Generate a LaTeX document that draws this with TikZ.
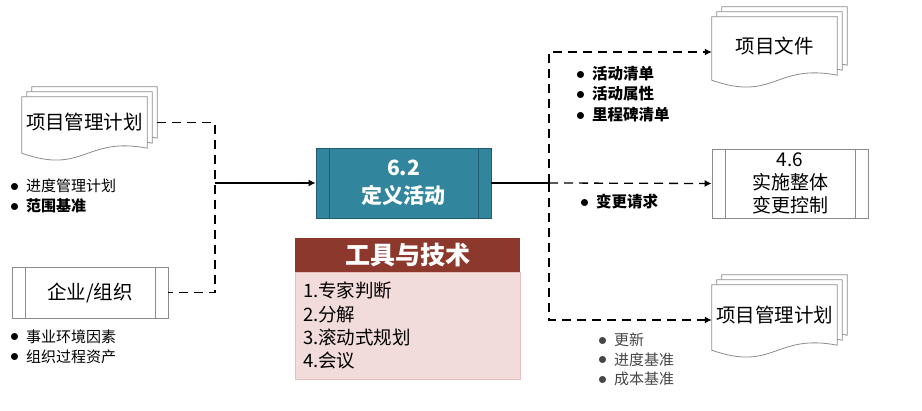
\documentclass[tikz,border=0pt]{standalone}
\usepackage{fontspec}
\setmainfont{Noto Sans CJK SC}
\definecolor{ActTeal}{RGB}{49, 133, 156}
\definecolor{ActTealDark}{RGB}{33, 92, 110}
\definecolor{ToolRed}{RGB}{140, 56, 45}
\definecolor{ToolPink}{RGB}{242, 220, 219}
\definecolor{ToolPinkLine}{RGB}{230, 190, 188}
\definecolor{DocGray}{RGB}{140, 140, 140}
\definecolor{NoteGray}{RGB}{70, 70, 70}
\usetikzlibrary{arrows.meta, positioning, calc, backgrounds}

\newcommand{\bitem}[1]{\makebox[16pt][l]{\raisebox{0.3pt}{\scalebox{1.25}{$\bullet$}}}#1}
\newcommand{\docstack}[4]{
  \node[docnode, minimum height=#3] (#1) at (#2) {#4};
  \begin{scope}[on background layer]
    \foreach \d in {10,5,0}
      \draw[docline] ($(#1.north west)+(\d,-\d)$) -- ($(#1.north east)+(\d,-\d)$) -- ($(#1.south east)+(\d,-\d)$)
        .. controls +(-62,-12) and +(62,22) .. ($(#1.south west)+(\d,5-\d)$) -- cycle;
  \end{scope}
}

\begin{document}
\begin{tikzpicture}[x=1pt, y=-1pt,
    docnode/.style={inner sep=0pt, minimum width=125pt, font=\fontsize{19.5}{23}\selectfont},
    docline/.style={draw=DocGray, fill=white, line width=0.8pt},
    sidebars/.style={path picture={
      \draw[#1, line width=0.8pt] ([xshift=13pt]path picture bounding box.north west) -- ([xshift=13pt]path picture bounding box.south west)
        ([xshift=-13pt]path picture bounding box.north east) -- ([xshift=-13pt]path picture bounding box.south east);}},
    procbox/.style={draw=DocGray, fill=white, line width=0.8pt, inner sep=0pt, minimum width=156pt, sidebars=DocGray},
    actbox/.style={draw=ActTealDark, fill=ActTeal, line width=0.8pt, inner sep=0pt, minimum width=175pt, minimum height=70pt,
      sidebars=ActTealDark, text=white, align=center, font=\bfseries\fontsize{21}{28}\selectfont},
    toolhead/.style={fill=ToolRed, text=white, minimum width=225pt, minimum height=34pt, inner sep=0pt,
      font=\bfseries\fontsize{25}{28}\selectfont},
    toolbody/.style={draw=ToolPinkLine, fill=ToolPink, minimum width=225pt, minimum height=107pt, inner xsep=8pt, inner ysep=0pt,
      text width=209pt, align=left, font=\fontsize{18.5}{23.3}\selectfont},
    notes/.style={inner sep=0pt, align=left, font=\fontsize{15}{20}\selectfont},
    dashline/.style={dash pattern=on 9pt off 6pt, line width=1.3pt},
    arrowline/.style={-{Latex[length=7pt, width=7pt]}, line width=1.3pt}]
  \useasboundingbox (0,0) rectangle (922,411);

  \docstack{pmpL}{84.5,122.5}{51pt}{项目管理计划}
  \node[notes, anchor=west] (pmpLnotes) at (10,196) {\bitem{进度管理计划}\\\bitem{\textbf{范围基准}}};

  \node[procbox, minimum height=51pt, font=\fontsize{19.5}{23}\selectfont] (ent) at (90,292.5) {企业/组织};
  \node[notes, anchor=west] (entnotes) at (10,346.5) {\bitem{事业环境因素}\\\bitem{组织过程资产}};

  \node[actbox] (act) at (403.5,183) {6.2\\定义活动};
  \node[toolhead] (tools) at (407.5,255) {工具与技术};
  \node[toolbody, below=0pt of tools] (toolsbody) {1.专家判断\\2.分解\\3.滚动式规划\\4.会议};

  \docstack{docs}{774.5,46}{58pt}{项目文件}
  \node[notes, anchor=west, font=\bfseries\fontsize{15.5}{20.5}\selectfont] (docsnotes) at (576,94) {\bitem{活动清单}\\\bitem{活动属性}\\\bitem{里程碑清单}};

  \node[procbox, minimum height=69pt, align=center, font=\fontsize{19}{23}\selectfont] (icc) at (790,183.5) {4.6\\实施整体\\变更控制};
  \node[notes, anchor=west, font=\bfseries\fontsize{15.5}{20}\selectfont] (iccnotes) at (580,202) {\bitem{变更请求}};

  \docstack{pmpR}{774.5,315}{60pt}{项目管理计划}
  \node[notes, anchor=west, text=NoteGray, font=\fontsize{15}{19.5}\selectfont] (pmpRnotes) at (598,359.5) {\bitem{更新}\\\bitem{进度基准}\\\bitem{成本基准}};

  \coordinate (jn) at (215,183);
  \coordinate (split) at (549,183);
  \draw[dashline] ($(pmpL.east)+(10,0)$) -| (jn) |- (ent.east);
  \draw[arrowline] (jn) -- (act.west);
  \draw[line width=1.3pt] (act.east) -- (split);
  \draw[dashline, arrowline] (split) |- ($(docs.west)+(0,6)$);
  \draw[dashline, arrowline] (split) -- (icc.west);
  \draw[dashline, arrowline] (split) |- ($(pmpR.west)+(0,5)$);
\end{tikzpicture}
\end{document}
